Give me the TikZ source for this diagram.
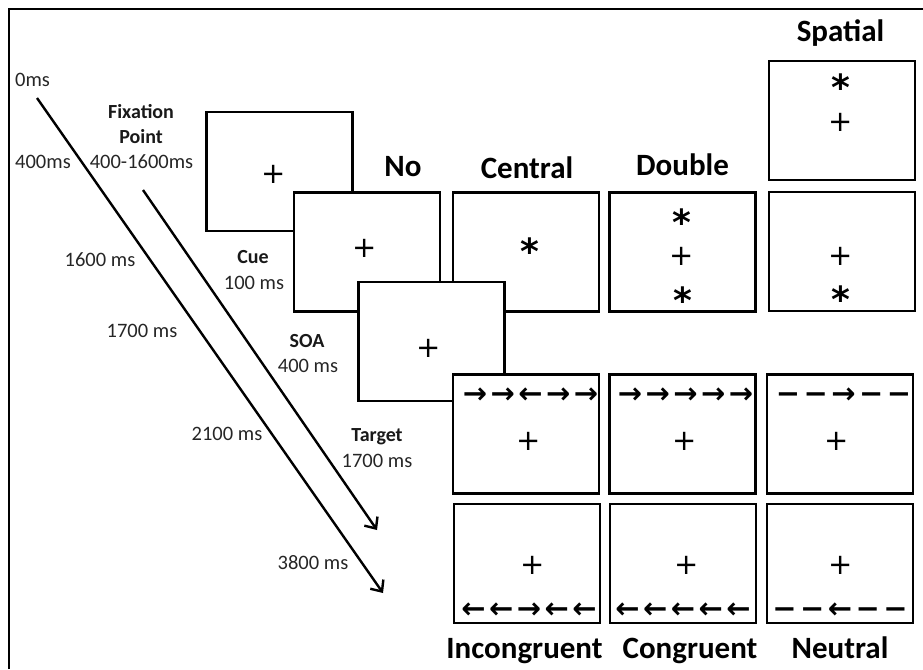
\documentclass[tikz,border=0pt]{standalone}
\usepackage{fontspec}
\setmainfont{Carlito}
\newfontfamily\dv{DejaVu Sans}
\newfontfamily\dvb{DejaVu Sans Bold}
\newfontfamily\dvfl[LetterSpace=12]{DejaVu Sans Bold}
\usetikzlibrary{arrows.meta}
\tikzset{
 scr/.style={draw, line width=2.8pt, fill=white, minimum width=146pt, minimum height=119pt, inner sep=0pt},
 ttl/.style={font=\fontsize{31}{31}\selectfont\bfseries, anchor=base, inner sep=0pt},
 lbl/.style={font=\fontsize{20}{20}\selectfont\bfseries, anchor=base, inner sep=0pt, text=black!90},
 num/.style={font=\fontsize{20.5}{20.5}\selectfont, anchor=base, inner sep=0pt, text=black!85},
 pls/.style={font=\dv\fontsize{29}{29}\selectfont, inner sep=0pt},
 astr/.style={font=\dvb\fontsize{36}{36}\selectfont, inner sep=0pt},
 flk/.style={font=\dvfl\fontsize{29}{29}\selectfont, inner sep=0pt},
 tl/.style={line width=2.4pt, -{Straight Barb[length=9pt,width=16pt,line width=2.4pt]}}
}
\begin{document}
\begin{tikzpicture}[x=1pt,y=-1pt]
\useasboundingbox (0,0) rectangle (923,669);
% frame
\coordinate (fbl) at (9,669);
\coordinate (ftl) at (9,9);
\coordinate (ftr) at (923,9);
\draw[line width=2pt] (fbl) -- (ftl) -- (ftr);

% time arrows
\coordinate (a1s) at (37,98);
\coordinate (a1e) at (383,593);
\coordinate (a2s) at (143,190);
\coordinate (a2e) at (377,530);
\draw[tl] (a1s) -- (a1e);
\draw[tl] (a2s) -- (a2e);

% left labels
\node[num, anchor=base west] (t0) at (15,86) {0ms};
\node[num, anchor=base west] (t400) at (15,168) {400ms};
\node[num] (t1600) at (100,266) {1600 ms};
\node[num] (t1700) at (142,337) {1700 ms};
\node[num] (t2100) at (227,440) {2100 ms};
\node[num] (t3800) at (313,569) {3800 ms};

\node[lbl] (fx1) at (141,118) {Fixation};
\node[lbl] (fx2) at (141,143) {Point};
\node[num] (fx3) at (141.5,168) {400-1600ms};
\node[lbl] (cu1) at (253,263) {Cue};
\node[num] (cu2) at (254,289) {100 ms};
\node[lbl] (so1) at (307,347) {SOA};
\node[num] (so2) at (308,372) {400 ms};
\node[lbl] (tg1) at (377,441) {Target};
\node[num] (tg2) at (377,467) {1700 ms};

% sequence boxes
\node[scr] (fix) at (279.5,171.5) {};
\node[pls] (fixp) at (274,174) {+};
\node[scr] (cue) at (367,252) {};
\node[pls] (cuep) at (365,248) {+};
\node[scr] (cen) at (526,252) {};
\node[astr] (cens) at (530,251) {*};
\node[scr] (tgt) at (431.5,341.5) {};
\node[pls] (tgtp) at (429,348) {+};

\node[scr] (dbl) at (682.5,252) {};
\node[astr] (dbs1) at (682,222) {*};
\node[pls] (dbp) at (682,256) {+};
\node[astr] (dbs2) at (683,300) {*};

\node[scr] (spl) at (842,251.5) {};
\node[pls] (splp) at (841,256) {+};
\node[astr] (spls) at (841,299) {*};
\node[scr] (spu) at (842,120.5) {};
\node[astr] (spus) at (841,87) {*};
\node[pls] (spup) at (841,122) {+};

% cue titles
\node[ttl] (tno) at (403,176) {No};
\node[ttl] (tcen) at (527,178) {Central};
\node[ttl] (tdbl) at (682.5,175) {Double};
\node[ttl] (tspa) at (840.5,42) {Spatial};

% flanker boxes
\node[scr] (r1a) at (526,434) {};
\node[scr] (r1b) at (682.5,434) {};
\node[scr] (r1c) at (840,434) {};
\node[scr] (r2a) at (527,563.5) {};
\node[scr] (r2b) at (683,563.5) {};
\node[scr] (r2c) at (840,563.5) {};

\node[flk] (f1a) at (530.5,395.5) {→→←→→};
\node[flk] (f1b) at (685.5,395.5) {→→→→→};
\node[flk] (f1c) at (843.5,395.5) {−−→−−};
\node[pls] (p1a) at (529,441) {+};
\node[pls] (p1b) at (685,441) {+};
\node[pls] (p1c) at (837,441) {+};

\node[pls] (p2a) at (533,565) {+};
\node[pls] (p2b) at (687,565) {+};
\node[pls] (p2c) at (841,565) {+};
\node[flk] (f2a) at (529,610.5) {←←→←←};
\node[flk] (f2b) at (683,610.5) {←←←←←};
\node[flk] (f2c) at (840,610.5) {−−←−−};

\node[ttl] (tinc) at (524.5,658) {Incongruent};
\node[ttl] (tcon) at (690,658) {Congruent};
\node[ttl] (tneu) at (840,658) {Neutral};
\end{tikzpicture}
\end{document}
